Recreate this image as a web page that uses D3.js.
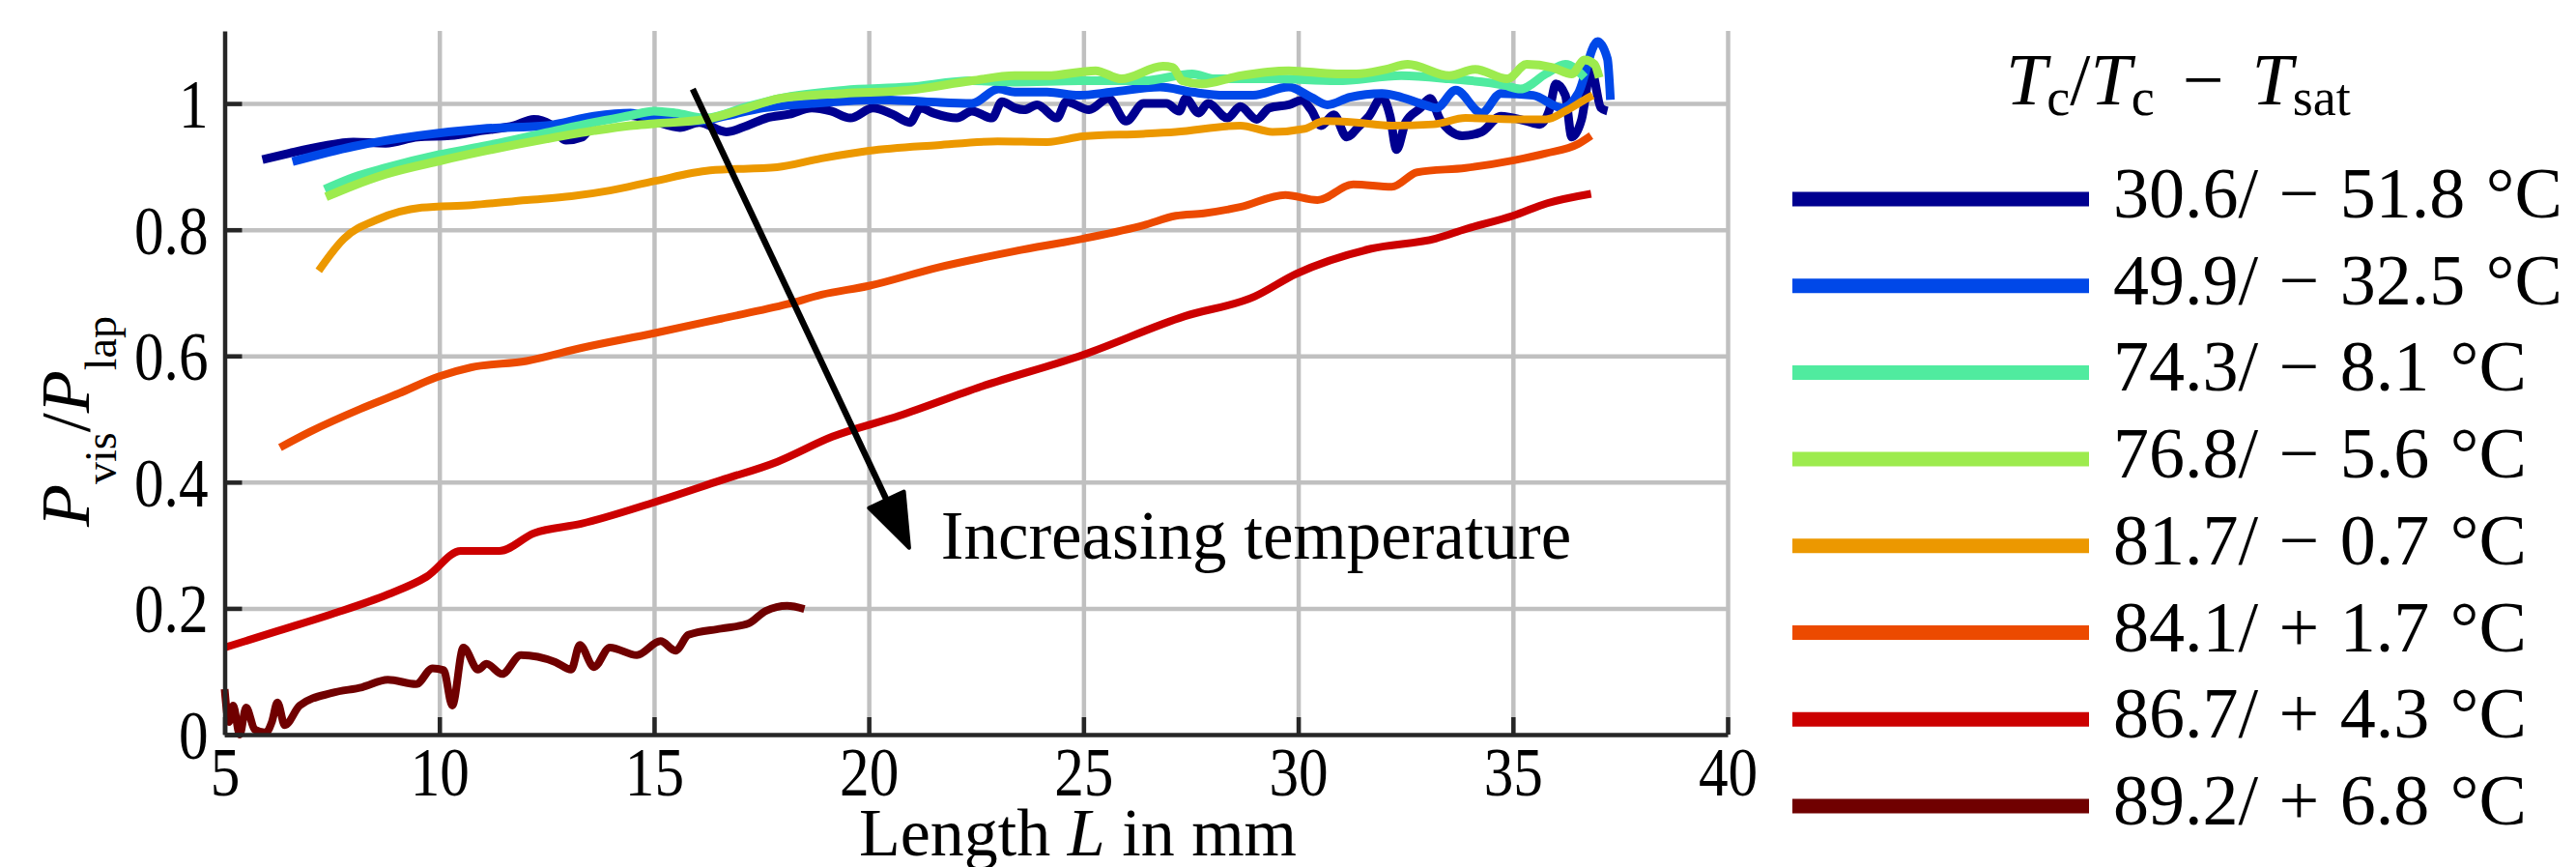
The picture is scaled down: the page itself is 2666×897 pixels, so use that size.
<!DOCTYPE html>
<html>
<head>
<meta charset="utf-8">
<script src="https://cdn.jsdelivr.net/npm/d3@7"></script>
<style>
  body { margin: 0; background: #fff; }
  text { font-family: "Liberation Serif", "Times New Roman", serif; fill: #000; }
</style>
</head>
<body>
<div id="chart"></div>
<script>
// series: [length L in mm, P_vis / P_lap]
var s306 = [[5.88,0.911],[6.5,0.921],[7.25,0.932],[8.0,0.939],[8.75,0.937],[9.5,0.947],[10.25,0.949],[11.0,0.957],[11.75,0.965],[12.2,0.975],[12.58,0.967],[12.95,0.942],[13.33,0.947],[13.7,0.977],[14.17,0.980],[14.45,0.981],[15.0,0.972],[15.6,0.962],[16.05,0.970],[16.68,0.955],[17.17,0.965],[17.62,0.977],[18.15,0.983],[18.67,0.993],[19.12,0.988],[19.57,0.977],[20.1,0.993],[20.55,0.983],[20.96,0.970],[21.2,0.993],[21.5,0.985],[22.05,0.977],[22.4,0.988],[22.87,0.977],[23.1,1.003],[23.4,0.993],[23.62,0.990],[23.92,0.998],[24.38,0.977],[24.6,1.003],[25.13,0.990],[25.58,1.008],[25.99,0.972],[26.4,1.0],[26.93,1.0],[27.23,0.988],[27.38,1.008],[27.68,0.985],[27.9,1.0],[28.35,0.977],[28.65,0.995],[29.03,0.975],[29.33,0.993],[29.78,0.998],[30.08,1.005],[30.3,0.990],[30.53,0.965],[30.83,0.982],[31.13,0.947],[31.43,0.965],[31.65,0.980],[31.95,1.01],[32.14,0.980],[32.29,0.927],[32.5,0.970],[32.85,0.993],[33.07,1.008],[33.3,0.975],[33.82,0.949],[34.27,0.955],[34.72,0.980],[35.32,0.972],[35.62,0.967],[35.85,0.990],[36.0,1.031],[36.22,1.013],[36.37,0.947],[36.6,0.975],[36.82,1.054],[37.05,0.993],[37.2,0.988]];
var s499 = [[6.58,0.908],[8.0,0.932],[9.5,0.949],[11.0,0.960],[12.5,0.965],[13.6,0.980],[14.45,0.985],[15.0,0.977],[16.05,0.972],[16.65,0.980],[17.55,0.993],[18.67,1.0],[20.17,1.006],[21.3,1.003],[22.4,1.0],[23.02,1.023],[23.4,1.018],[24.15,1.018],[24.9,1.013],[25.65,1.018],[26.78,1.026],[27.53,1.018],[28.28,1.013],[28.95,1.013],[29.78,1.026],[30.3,1.010],[30.68,0.998],[31.2,1.010],[31.95,1.016],[32.4,1.010],[32.85,1.0],[33.22,0.993],[33.67,1.021],[34.27,0.985],[34.72,1.016],[35.47,1.013],[36.15,0.993],[36.52,1.016],[36.97,1.098],[37.2,1.071],[37.27,1.006]];
var s743 = [[7.33,0.864],[8.0,0.883],[8.75,0.898],[10.0,0.919],[11.0,0.932],[12.5,0.954],[13.6,0.970],[14.45,0.981],[15.0,0.988],[15.5,0.985],[16.2,0.977],[17.17,0.995],[17.92,1.008],[19.42,1.021],[20.92,1.026],[22.4,1.036],[23.4,1.034],[24.9,1.036],[26.4,1.036],[27.53,1.047],[28.05,1.039],[29.4,1.039],[30.9,1.036],[32.4,1.044],[33.52,1.039],[34.8,1.029],[35.17,1.023],[35.77,1.047],[36.22,1.062],[36.67,1.041]];
var s768 = [[7.36,0.852],[8.0,0.870],[8.75,0.888],[10.0,0.909],[11.0,0.924],[12.5,0.944],[13.6,0.957],[14.45,0.965],[15.0,0.968],[16.2,0.975],[17.17,0.993],[17.92,1.008],[19.42,1.016],[20.92,1.021],[22.4,1.036],[23.4,1.044],[24.15,1.044],[25.28,1.052],[25.88,1.039],[26.85,1.059],[27.08,1.057],[27.3,1.036],[27.75,1.031],[28.65,1.044],[29.78,1.052],[30.9,1.047],[31.35,1.047],[32.03,1.054],[32.55,1.062],[33.52,1.044],[34.12,1.054],[34.87,1.039],[35.32,1.062],[35.92,1.057],[36.37,1.047],[36.67,1.069],[36.9,1.062],[37.01,1.041]];
var s817 = [[7.19,0.735],[7.78,0.786],[8.55,0.816],[9.59,0.835],[10.75,0.839],[12.03,0.847],[13.07,0.853],[13.97,0.862],[15.0,0.877],[16.3,0.894],[17.86,0.899],[18.9,0.913],[20.0,0.925],[21.6,0.934],[23.0,0.940],[24.15,0.939],[25.0,0.948],[26.4,0.952],[27.15,0.955],[28.65,0.965],[29.4,0.955],[30.15,0.960],[30.6,0.972],[31.35,0.970],[32.17,0.965],[33.15,0.967],[33.9,0.977],[35.02,0.975],[35.77,0.975],[36.22,0.988],[36.67,1.006],[36.86,1.013]];
var s841 = [[6.29,0.455],[6.99,0.480],[8.16,0.516],[9.07,0.541],[9.97,0.567],[10.75,0.582],[12.03,0.592],[13.33,0.613],[15.0,0.636],[16.56,0.659],[18.1,0.682],[18.9,0.697],[20.0,0.711],[21.6,0.740],[23.4,0.766],[25.0,0.786],[26.4,0.807],[27.15,0.822],[27.8,0.826],[28.65,0.836],[29.7,0.855],[30.45,0.847],[31.28,0.872],[32.18,0.868],[32.77,0.891],[33.9,0.898],[35.02,0.910],[35.77,0.921],[36.52,0.936],[36.82,0.949]];
var s867 = [[5.0,0.138],[6.23,0.164],[7.5,0.191],[8.8,0.222],[9.7,0.250],[10.5,0.291],[11.4,0.291],[12.2,0.319],[13.3,0.334],[15.0,0.368],[16.56,0.403],[17.86,0.432],[19.15,0.472],[20.7,0.505],[22.6,0.551],[25.0,0.602],[27.36,0.663],[28.98,0.694],[29.95,0.730],[31.7,0.770],[33.2,0.786],[33.9,0.801],[35.0,0.822],[35.8,0.842],[36.82,0.857]];
var s892 = [[5.0,0.072],[5.1,0.02],[5.2,0.046],[5.35,0.0],[5.5,0.043],[5.7,0.008],[5.96,0.003],[6.1,0.02],[6.23,0.051],[6.4,0.015],[6.75,0.046],[7.5,0.066],[8.2,0.075],[8.8,0.087],[9.46,0.080],[9.84,0.105],[10.1,0.102],[10.3,0.046],[10.56,0.138],[10.9,0.103],[11.1,0.112],[11.46,0.096],[11.9,0.126],[12.7,0.115],[13.07,0.103],[13.27,0.142],[13.6,0.107],[13.97,0.138],[14.6,0.126],[15.15,0.148],[15.5,0.133],[15.8,0.158],[16.56,0.168],[17.2,0.176],[17.6,0.196],[18.1,0.204],[18.5,0.199]];

var seriesData = [s306, s499, s743, s768, s817, s841, s867, s892];
var seriesNames = ["30.6/ \u2212 51.8 \u00b0C", "49.9/ \u2212 32.5 \u00b0C", "74.3/ \u2212 8.1 \u00b0C", "76.8/ \u2212 5.6 \u00b0C",
                   "81.7/ \u2212 0.7 \u00b0C", "84.1/ + 1.7 \u00b0C", "86.7/ + 4.3 \u00b0C", "89.2/ + 6.8 \u00b0C"];
var seriesColors = ["#000090", "#0048e8", "#50eb9f", "#9deb4e", "#ec9800", "#ec4a00", "#cc0000", "#700000"];

var xTicks = [5, 10, 15, 20, 25, 30, 35, 40];
var yTicks = [0, 0.2, 0.4, 0.6, 0.8, 1];
var yTickLabels = ["0", "0.2", "0.4", "0.6", "0.8", "1"];

// arrow annotation, in data units
var arrowFrom = [15.9, 1.023], arrowTo = [20.94, 0.296];
var arrowText = "Increasing temperature", arrowTextAt = [21.68, 0.279];

// set the dimensions and margins of the graph
var margin = {top: 32, right: 878, bottom: 137, left: 232.5},
    width = 2666 - margin.left - margin.right,
    height = 897 - margin.top - margin.bottom;

var root = d3.select("#chart")
    .append("svg")
    .attr("width", 2666)
    .attr("height", 897);

var svg = root.append("g")
    .attr("transform", "translate(" + margin.left + "," + margin.top + ")");

var x = d3.scaleLinear().domain([5, 40]).range([0, width]);
var y = d3.scaleLinear().domain([0, 1.115]).range([height, 0]);

// grid
var gridX = svg.append("g")
    .attr("transform", "translate(0," + height + ")")
    .call(d3.axisBottom(x).tickValues(xTicks.slice(1)).tickSize(-height).tickFormat(""));
var gridY = svg.append("g")
    .call(d3.axisLeft(y).tickValues(yTicks.slice(1)).tickSize(-width).tickFormat(""));
[gridX, gridY].forEach(function(g) {
  g.select(".domain").remove();
  g.selectAll(".tick line").attr("stroke", "#c0c0c0").attr("stroke-width", 4.5);
});

// lines
var line = d3.line()
    .x(function(d) { return x(d[0]); })
    .y(function(d) { return y(d[1]); })
    .curve(d3.curveMonotoneX);

svg.append("g")
  .selectAll("path")
  .data(seriesData)
  .enter()
  .append("path")
    .attr("d", line)
    .attr("fill", "none")
    .attr("stroke", function(d, i) { return seriesColors[i]; })
    .attr("stroke-width", function(d, i) { return i < 4 ? 9 : 8; })
    .attr("stroke-linejoin", "round")
    .attr("stroke-linecap", "butt");

// axes, ticks pointing inwards
var xAxis = svg.append("g")
    .attr("transform", "translate(0," + height + ")")
    .call(d3.axisBottom(x).tickValues(xTicks).tickSize(-18).tickSizeOuter(0).tickPadding(12));
var yAxis = svg.append("g")
    .call(d3.axisLeft(y).tickValues(yTicks).tickSize(-18).tickSizeOuter(0).tickPadding(20)
      .tickFormat(function(d, i) { return yTickLabels[i]; }));
[xAxis, yAxis].forEach(function(g) {
  g.select(".domain").attr("stroke", "#262626").attr("stroke-width", 4.5);
  g.selectAll(".tick line").attr("stroke", "#262626").attr("stroke-width", 4.5);
  g.selectAll(".tick text")
    .style("font-family", "'Liberation Serif', serif")
    .style("font-size", "72px")
    .attr("fill", "#000")
    .attr("transform", "scale(0.85,1)");
});
yAxis.selectAll(".tick text").attr("dy", "0.34em");

// x axis label
var xl = root.append("text")
    .attr("x", 889)
    .attr("y", 885)
    .style("font-size", "70px");
xl.append("tspan").text("Length ");
xl.append("tspan").style("font-style", "italic").text("L");
xl.append("tspan").text(" in mm");

// y axis label
var yl = root.append("text")
    .attr("transform", "translate(92,436) rotate(-90)")
    .attr("text-anchor", "middle")
    .style("font-size", "72px");
yl.append("tspan").style("font-style", "italic").text("P");
yl.append("tspan").attr("dy", 28).style("font-size", "46px").text("vis");
yl.append("tspan").attr("dy", -28).text("/");
yl.append("tspan").style("font-style", "italic").text("P");
yl.append("tspan").attr("dy", 28).style("font-size", "46px").text("lap");

// arrow
var ax0 = x(arrowFrom[0]), ay0 = y(arrowFrom[1]),
    ax1 = x(arrowTo[0]), ay1 = y(arrowTo[1]);
var ang = Math.atan2(ay1 - ay0, ax1 - ax0), hl = 55, hw = 20;
var bx = ax1 - hl * Math.cos(ang), by = ay1 - hl * Math.sin(ang);
svg.append("line")
    .attr("x1", ax0).attr("y1", ay0)
    .attr("x2", bx).attr("y2", by)
    .attr("stroke", "#000")
    .attr("stroke-width", 6.5);
svg.append("path")
    .attr("d", "M" + ax1 + "," + ay1 +
               "L" + (bx + hw * Math.sin(ang)) + "," + (by - hw * Math.cos(ang)) +
               "L" + (bx - hw * Math.sin(ang)) + "," + (by + hw * Math.cos(ang)) + "Z")
    .attr("fill", "#000")
    .attr("stroke", "#000")
    .attr("stroke-width", 4)
    .attr("stroke-linejoin", "round");
svg.append("text")
    .attr("x", x(arrowTextAt[0]))
    .attr("y", y(arrowTextAt[1]))
    .style("font-size", "71px")
    .text(arrowText);

// legend
var title = root.append("text")
    .attr("x", 2076)
    .attr("y", 108)
    .style("font-size", "76px")
    .style("word-spacing", "10px");
title.append("tspan").style("font-style", "italic").text("T");
title.append("tspan").attr("dy", 11).style("font-size", "54px").text("c");
title.append("tspan").attr("dy", -11).text("/");
title.append("tspan").style("font-style", "italic").text("T");
title.append("tspan").attr("dy", 11).style("font-size", "54px").text("c");
title.append("tspan").attr("dy", -11).text(" \u2212 ");
title.append("tspan").style("font-style", "italic").text("T");
title.append("tspan").attr("dy", 11).style("font-size", "54px").text("sat");

var legend = root.append("g")
  .selectAll("g")
  .data(seriesNames)
  .enter()
  .append("g")
    .attr("transform", function(d, i) { return "translate(0," + (206 + i * 89.7) + ")"; });
legend.append("line")
    .attr("x1", 1855).attr("x2", 2162)
    .attr("stroke", function(d, i) { return seriesColors[i]; })
    .attr("stroke-width", 15);
legend.append("text")
    .attr("x", 2187)
    .attr("y", 19)
    .style("font-size", "74px")
    .style("word-spacing", "3px")
    .text(function(d) { return d; });
</script>
</body>
</html>
